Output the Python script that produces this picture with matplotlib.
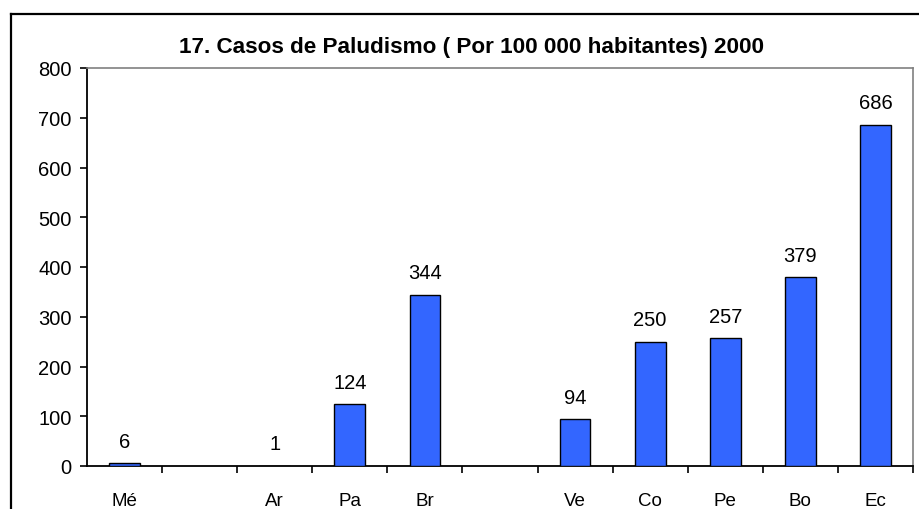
import matplotlib
matplotlib.use("Agg")
import matplotlib.pyplot as plt
from matplotlib.lines import Line2D

plt.rcParams['font.family'] = ['Liberation Sans', 'DejaVu Sans']

categories = ["Mé", "", "Ar", "Pa", "Br", "", "Ve", "Co", "Pe", "Bo", "Ec"]
values = [6, None, 1, 124, 344, None, 94, 250, 257, 379, 686]
title = "17. Casos de Paludismo ( Por 100 000 habitantes) 2000"
yticks = [0, 100, 200, 300, 400, 500, 600, 700, 800]

W, H = 919, 510
fig = plt.figure(figsize=(W / 100, H / 100), dpi=100)
ax = fig.add_axes([87 / W, 1 - 467 / H, (913 - 87) / W, (467 - 69) / H])

xs = list(range(len(categories)))
bx = [x for x, v in zip(xs, values) if v is not None]
bv = [v for v in values if v is not None]
ax.bar(bx, bv, width=0.41, color="#3366FF", edgecolor="black", linewidth=1.0, zorder=3)
for x, v in zip(bx, bv):
    ax.annotate(str(v), (x, v), xytext=(0, 9), textcoords="offset points",
                ha="center", va="bottom", fontsize=14.5)

ax.set_xlim(-0.5, len(categories) - 0.5)
ax.set_ylim(0, 800)
ax.set_yticks(yticks)
ax.set_yticklabels([str(t) for t in yticks], fontsize=14.5)
ax.set_xticks([x + 0.5 for x in xs])
ax.set_xticklabels([""] * len(xs))
ax.set_xticks(xs, minor=True)
ax.set_xticklabels(categories, minor=True, fontsize=13.5)
ax.tick_params(axis="x", which="minor", length=0, pad=19)
ax.tick_params(axis="x", which="major", length=5, width=1.2, direction="out")
ax.tick_params(axis="y", length=5, width=1.2, direction="out", pad=6)

for s in ["top", "right"]:
    ax.spines[s].set_color("#808080")
    ax.spines[s].set_linewidth(1.2)
for s in ["left", "bottom"]:
    ax.spines[s].set_color("black")
    ax.spines[s].set_linewidth(1.3)

fig.text(471 / W, 1 - 48 / H, title, ha="center", va="center",
         fontsize=16.2, fontweight="bold")

# outer chart frame
fig.add_artist(Line2D([11 / W, 1], [1 - 15 / H, 1 - 15 / H], color="black", linewidth=1.6))
fig.add_artist(Line2D([11 / W, 11 / W], [0, 1 - 15 / H], color="black", linewidth=1.6))

fig.savefig("out.png", dpi=100)
